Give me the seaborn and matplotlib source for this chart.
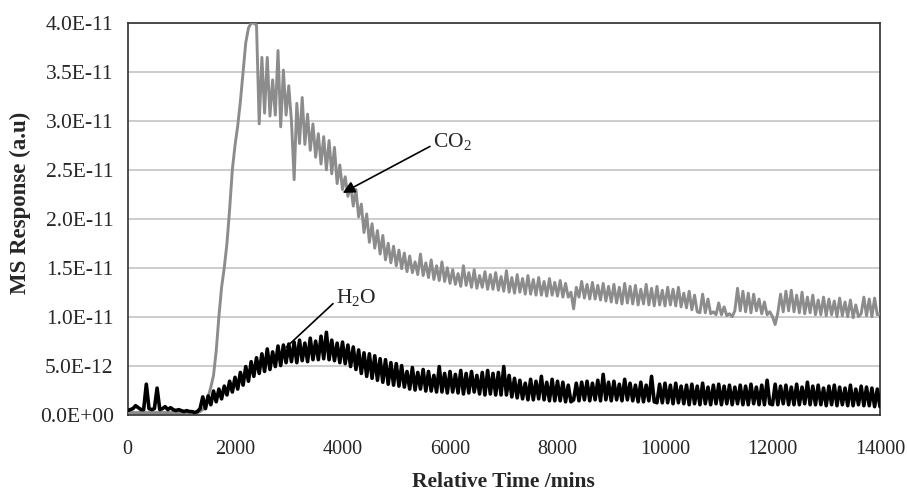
import numpy as np
import matplotlib
matplotlib.use("Agg")
import matplotlib.pyplot as plt
from matplotlib.ticker import FuncFormatter, MultipleLocator
import seaborn as sns

# ---- data (MS response in units of 1E-12, sampled every 50 min) ----
time_min = np.arange(0, 14001, 50)

h2o_e12 = [
    0.4, 0.5, 0.6, 0.9, 0.7, 0.5, 0.5, 3.1, 0.6, 0.5, 0.6, 2.7, 0.5, 0.6, 0.8, 0.5, 0.7, 0.5, 0.4, 0.5,
    0.4, 0.3, 0.4, 0.3, 0.3, 0.2, 0.3, 0.6, 1.8, 0.6, 1.9, 1.0, 2.4, 1.3, 2.6, 1.6, 2.9, 2.0, 3.4, 2.3,
    3.8, 2.6, 4.3, 3.0, 4.9, 3.4, 5.4, 3.9, 5.8, 4.2, 6.2, 4.4, 6.7, 4.6, 6.4, 4.9, 7.0, 5.0, 7.1, 5.3,
    7.2, 5.4, 7.4, 5.3, 7.6, 5.5, 7.3, 5.4, 7.8, 5.6, 7.5, 5.6, 8.0, 5.7, 8.4, 5.6, 7.6, 5.5, 7.3, 5.3,
    7.4, 5.2, 7.1, 4.9, 6.9, 4.6, 6.6, 4.2, 6.3, 3.9, 6.2, 3.7, 6.0, 3.5, 5.7, 3.3, 5.6, 3.1, 5.3, 3.0,
    5.2, 2.9, 5.0, 2.8, 4.4, 2.6, 4.8, 2.5, 4.3, 2.6, 4.6, 2.4, 4.4, 2.4, 4.0, 2.3, 4.9, 2.3, 4.2, 2.2,
    4.4, 2.3, 4.1, 2.2, 4.5, 2.1, 4.2, 2.2, 4.4, 2.3, 4.0, 2.1, 4.3, 2.0, 4.5, 2.1, 4.2, 2.0, 4.3, 2.0,
    4.9, 2.0, 4.0, 1.8, 3.7, 1.7, 3.5, 1.6, 3.2, 1.5, 3.6, 1.5, 3.4, 1.6, 3.9, 1.5, 3.3, 1.4, 3.6, 1.4,
    3.4, 1.4, 3.3, 1.3, 3.0, 1.3, 1.5, 3.2, 1.4, 3.3, 1.5, 3.4, 1.4, 3.2, 1.5, 3.5, 1.4, 4.1, 1.5, 3.3,
    1.4, 3.4, 1.5, 3.1, 1.4, 3.6, 1.5, 3.2, 1.4, 3.0, 1.3, 3.3, 1.3, 3.0, 1.4, 3.9, 1.3, 1.2, 3.1, 1.2,
    3.2, 1.2, 3.0, 1.1, 3.2, 1.2, 2.9, 1.1, 3.0, 1.0, 3.1, 1.1, 2.9, 1.0, 3.2, 1.1, 2.8, 1.0, 3.0, 1.1,
    3.1, 1.0, 2.9, 1.1, 3.0, 1.0, 2.8, 1.1, 3.0, 1.0, 2.9, 1.0, 3.1, 1.1, 2.8, 1.0, 3.0, 1.0, 3.5, 1.1,
    1.0, 3.1, 1.0, 2.9, 1.1, 3.0, 1.0, 2.8, 1.0, 3.1, 1.0, 2.8, 1.1, 3.3, 1.0, 2.9, 1.0, 3.0, 1.0, 2.7,
    0.9, 2.9, 1.0, 3.0, 0.9, 2.8, 1.0, 2.7, 0.9, 3.0, 0.9, 2.6, 1.0, 2.9, 0.9, 2.8, 0.9, 2.7, 0.8, 2.6,
    0.8,
]

co2_e12 = [
    0.2, 0.2, 0.2, 0.2, 0.2, 0.2, 0.2, 0.2, 0.2, 0.2, 0.2, 0.2, 0.2, 0.2, 0.2, 0.2, 0.2, 0.2, 0.2, 0.2,
    0.2, 0.2, 0.2, 0.2, 0.2, 0.2, 0.2, 0.3, 0.5, 1.0, 1.8, 2.8, 4.0, 6.5, 10.0, 13.0, 15.0, 17.5, 21.0, 25.0,
    27.5, 29.5, 32.0, 35.0, 38.0, 39.5, 40.0, 40.0, 39.8, 29.7, 36.5, 30.8, 36.5, 30.5, 34.2, 30.6, 37.2, 29.4, 35.2, 30.6,
    33.6, 30.0, 24.0, 31.8, 27.7, 32.4, 27.6, 30.7, 27.0, 29.7, 26.3, 28.7, 25.6, 28.4, 25.0, 28.0, 24.6, 27.3, 23.6, 25.5,
    23.0, 24.3, 22.3, 23.5, 21.3, 23.0, 20.2, 21.5, 18.6, 20.5, 17.6, 19.5, 17.0, 18.8, 16.4, 18.3, 15.8, 17.5, 15.5, 17.2,
    15.2, 16.8, 14.9, 16.5, 14.6, 16.2, 14.5, 15.6, 14.3, 16.4, 14.2, 15.5, 14.0, 15.8, 13.8, 15.2, 13.7, 15.6, 13.6, 15.0,
    13.4, 14.8, 13.3, 14.4, 13.1, 15.2, 13.2, 14.5, 13.0, 14.8, 12.9, 14.2, 13.0, 14.6, 12.8, 14.3, 12.8, 14.5, 12.7, 14.1,
    12.6, 14.7, 12.5, 14.0, 12.4, 14.3, 12.5, 13.9, 12.3, 14.2, 12.3, 13.8, 12.2, 14.0, 12.2, 13.6, 12.1, 13.9, 12.2, 13.5,
    12.1, 13.7, 12.0, 13.4, 12.0, 12.5, 10.8, 13.0, 12.0, 13.6, 11.9, 13.3, 11.8, 13.5, 11.8, 13.2, 11.7, 13.4, 11.6, 13.1,
    11.5, 13.3, 11.4, 13.0, 11.3, 13.4, 11.4, 13.1, 11.3, 13.2, 11.2, 12.8, 11.3, 13.3, 11.2, 12.9, 11.1, 13.1, 11.2, 12.7,
    11.1, 13.0, 11.2, 12.8, 11.1, 13.0, 11.0, 12.4, 10.9, 12.6, 10.7, 12.2, 10.5, 10.4, 12.3, 10.4, 11.8, 10.3, 10.5, 10.2,
    11.4, 10.2, 11.0, 10.1, 10.3, 10.0, 10.6, 12.9, 10.6, 12.6, 10.5, 12.4, 10.4, 12.3, 10.6, 11.8, 10.3, 11.5, 10.2, 10.5,
    10.0, 9.2, 10.4, 12.3, 10.5, 12.6, 10.6, 12.7, 10.5, 12.2, 10.4, 12.5, 10.3, 12.0, 10.4, 12.2, 10.2, 11.7, 10.2, 12.0,
    10.1, 11.8, 10.2, 11.6, 10.0, 11.9, 10.1, 11.5, 10.0, 11.7, 9.9, 11.2, 10.0, 10.3, 12.0, 10.1, 11.8, 10.0, 11.9, 10.2,
    10.3,
]

x_ticks = [0, 2000, 4000, 6000, 8000, 10000, 12000, 14000]
x_label = "Relative Time /mins"
y_label = "MS Response (a.u)"
label_co2 = "CO$_2$"
label_h2o = "H$_2$O"

# ---- style ----
sns.set_style("white")
plt.rcParams["font.family"] = ["Liberation Serif", "DejaVu Serif"]
plt.rcParams["mathtext.fontset"] = "custom"
plt.rcParams["mathtext.rm"] = "Liberation Serif"
plt.rcParams["mathtext.it"] = "Liberation Serif:italic"
plt.rcParams["mathtext.bf"] = "Liberation Serif:bold"

fig = plt.figure(figsize=(9.07, 4.92), dpi=100)
ax = fig.add_axes([0.1406, 0.1575, 0.8296, 0.7955])

t = np.asarray(time_min)
co2 = np.asarray(co2_e12) * 1e-12
h2o = np.asarray(h2o_e12) * 1e-12

sns.lineplot(x=t, y=co2, ax=ax, color="#8c8c8c", lw=2.1, zorder=3)
sns.lineplot(x=t, y=h2o, ax=ax, color="#000000", lw=2.6, zorder=4)

ax.set_xlim(0, 14000)
ax.set_ylim(0, 4.0e-11)
ax.set_xticks(x_ticks)
ax.yaxis.set_major_locator(MultipleLocator(5e-12))
ax.yaxis.set_major_formatter(FuncFormatter(lambda v, p: f"{v:.1E}"))

ax.grid(axis="y", color="#c4c4c4", lw=1.2, zorder=0)
ax.grid(axis="x", visible=False)
for s in ["left", "bottom", "right", "top"]:
    ax.spines[s].set_visible(True)
    ax.spines[s].set_color("#303030")
    ax.spines[s].set_linewidth(1.2)

ax.tick_params(axis="both", which="major", direction="out", length=5,
               width=1.1, color="#303030", pad=5)
ax.tick_params(axis="x", pad=13, labelsize=14.5)
ax.tick_params(axis="y", labelsize=15.5)

ax.set_xlabel(x_label, fontsize=15.5, fontweight="bold", labelpad=10)
ax.set_ylabel(y_label, fontsize=16.5, fontweight="bold")
ax.yaxis.set_label_coords(-0.128, 0.54)

# annotations
ax.text(6037, 27.9e-12, label_co2, fontsize=15.5, ha="center", va="center", zorder=6)
ax.annotate("", xy=(4004, 22.65e-12), xytext=(5628, 27.4e-12),
            arrowprops=dict(arrowstyle="-|>", color="black", lw=1.2,
                            mutation_scale=18, shrinkA=0, shrinkB=0), zorder=6)
ax.text(4251, 11.94e-12, label_h2o, fontsize=15.5, ha="center", va="center", zorder=6)
ax.annotate("", xy=(2949, 6.86e-12), xytext=(3823, 11.33e-12),
            arrowprops=dict(arrowstyle="-", color="black", lw=1.2,
                            shrinkA=0, shrinkB=0), zorder=6)

fig.savefig("out.png", dpi=100)
